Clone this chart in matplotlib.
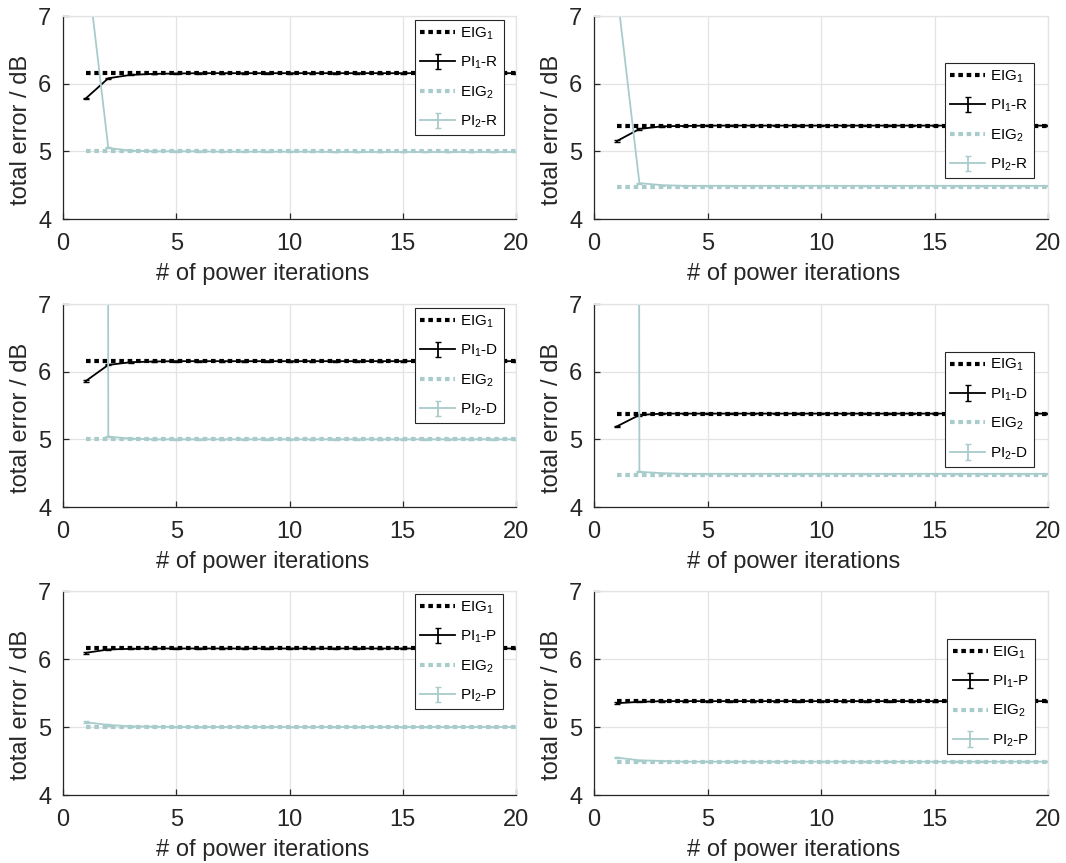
import matplotlib
matplotlib.use("Agg")
import matplotlib.pyplot as plt
import numpy as np

plt.rcParams["font.family"] = ["Liberation Sans", "DejaVu Sans"]
plt.rcParams["mathtext.fontset"] = "custom"
plt.rcParams["mathtext.rm"] = "Liberation Sans"
plt.rcParams["mathtext.default"] = "regular"

# x axis: number of power iterations
iters = list(range(1, 21))

# left column (first scenario)
eig1_a = [6.16] * 20
eig2_a = [5.00] * 20
pi1_r_a = [5.78, 6.08, 6.13, 6.145, 6.15, 6.155, 6.155, 6.155, 6.155, 6.155,
           6.155, 6.155, 6.155, 6.155, 6.155, 6.155, 6.155, 6.155, 6.155, 6.155]
pi2_r_a = [7.90, 5.05, 5.01, 5.00, 5.00, 5.00, 4.995, 4.995, 4.995, 4.995,
           4.995, 4.99, 4.99, 4.99, 4.99, 4.99, 4.99, 4.99, 4.99, 4.99]
pi1_d_a = [5.86, 6.10, 6.14, 6.15, 6.155, 6.155, 6.155, 6.155, 6.155, 6.155,
           6.155, 6.155, 6.155, 6.155, 6.155, 6.155, 6.155, 6.155, 6.155, 6.155]
pi2_d_a = [250.0, 5.04, 5.01, 5.00, 5.00, 5.00, 5.00, 5.00, 5.00, 5.00,
           5.00, 5.00, 5.00, 5.00, 5.00, 5.00, 5.00, 5.00, 5.00, 5.00]
pi1_p_a = [6.09, 6.14, 6.15, 6.155, 6.155, 6.155, 6.155, 6.155, 6.155, 6.155,
           6.155, 6.155, 6.155, 6.155, 6.155, 6.155, 6.155, 6.155, 6.155, 6.155]
pi2_p_a = [5.07, 5.03, 5.01, 5.005, 5.00, 5.00, 5.00, 5.00, 5.00, 5.00,
           5.00, 5.00, 5.00, 5.00, 5.00, 5.00, 5.00, 5.00, 5.00, 5.00]

# right column (second scenario)
eig1_b = [5.38] * 20
eig2_b = [4.48] * 20
pi1_r_b = [5.15, 5.33, 5.37, 5.375, 5.38, 5.38, 5.38, 5.38, 5.38, 5.38,
           5.38, 5.38, 5.38, 5.38, 5.38, 5.38, 5.38, 5.38, 5.38, 5.38]
pi2_r_b = [7.40, 4.53, 4.50, 4.49, 4.49, 4.49, 4.49, 4.49, 4.49, 4.49,
           4.49, 4.49, 4.49, 4.49, 4.49, 4.49, 4.49, 4.49, 4.49, 4.49]
pi1_d_b = [5.19, 5.36, 5.38, 5.38, 5.38, 5.38, 5.38, 5.38, 5.38, 5.38,
           5.38, 5.38, 5.38, 5.38, 5.38, 5.38, 5.38, 5.38, 5.38, 5.38]
pi2_d_b = [250.0, 4.52, 4.50, 4.49, 4.49, 4.49, 4.49, 4.49, 4.49, 4.49,
           4.49, 4.49, 4.49, 4.49, 4.49, 4.49, 4.49, 4.49, 4.49, 4.49]
pi1_p_b = [5.35, 5.37, 5.38, 5.38, 5.38, 5.38, 5.38, 5.38, 5.38, 5.38,
           5.38, 5.38, 5.38, 5.38, 5.38, 5.38, 5.38, 5.38, 5.38, 5.38]
pi2_p_b = [4.55, 4.51, 4.50, 4.49, 4.49, 4.49, 4.49, 4.49, 4.49, 4.49,
           4.49, 4.49, 4.49, 4.49, 4.49, 4.49, 4.49, 4.49, 4.49, 4.49]

# spread of the power iteration runs
pi_err = [0.012, 0.008, 0.006, 0.005, 0.005, 0.005, 0.005, 0.005, 0.005, 0.005,
          0.005, 0.005, 0.005, 0.005, 0.005, 0.005, 0.005, 0.005, 0.005, 0.005]

BLACK = "black"
TEAL = "#a8cccb"
DOTS = (0, (1.1, 0.9))

panels = [
    # (row, col, eig1, pi1, eig2, pi2, suffix, legend anchor)
    (0, 0, eig1_a, pi1_r_a, eig2_a, pi2_r_a, "R", (0.777, 0.98)),
    (0, 1, eig1_b, pi1_r_b, eig2_b, pi2_r_b, "R", (0.773, 0.768)),
    (1, 0, eig1_a, pi1_d_a, eig2_a, pi2_d_a, "D", (0.777, 0.98)),
    (1, 1, eig1_b, pi1_d_b, eig2_b, pi2_d_b, "D", (0.773, 0.765)),
    (2, 0, eig1_a, pi1_p_a, eig2_a, pi2_p_a, "P", (0.777, 0.985)),
    (2, 1, eig1_b, pi1_p_b, eig2_b, pi2_p_b, "P", (0.778, 0.765)),
]

fig = plt.figure(figsize=(10.66, 8.63), dpi=100)
W, H = 1066, 863
col_x = [(63, 516), (594, 1048)]
row_y = [(16, 219), (304, 507), (591, 795)]

for row, col, eig1, pi1, eig2, pi2, suf, anchor in panels:
    x0, x1 = col_x[col]
    y0, y1 = row_y[row]
    ax = fig.add_axes([x0 / W, 1 - y1 / H, (x1 - x0) / W, (y1 - y0) / H])

    h1, = ax.plot(iters, eig1, color=BLACK, lw=3, linestyle=DOTS,
                  label="EIG$_1$")
    h2 = ax.errorbar(iters, pi1, yerr=pi_err, color=BLACK, lw=1.3,
                     capsize=2.5, elinewidth=1.3, label="PI$_1$-" + suf)
    h3, = ax.plot(iters, eig2, color=TEAL, lw=3, linestyle=DOTS,
                  label="EIG$_2$")
    h4 = ax.errorbar(iters, pi2, yerr=pi_err, color=TEAL, lw=1.3,
                     capsize=2.5, elinewidth=1.3, label="PI$_2$-" + suf)

    ax.set_xlim(0, 20)
    ax.set_ylim(4, 7)
    ax.set_xticks([0, 5, 10, 15, 20])
    ax.set_yticks([4, 5, 6, 7])
    ax.grid(True, color="#e3e3e3", lw=0.9)
    ax.set_axisbelow(True)
    for side in ["left", "bottom"]:
        ax.spines[side].set_color("#262626")
        ax.spines[side].set_linewidth(0.9)
    for side in ["top", "right"]:
        ax.spines[side].set_color("#e3e3e3")
        ax.spines[side].set_linewidth(0.9)
    ax.tick_params(direction="in", length=4, width=0.9, colors="#262626",
                   labelsize=17, top=False, right=False)
    ax.tick_params(axis="x", pad=10)
    ax.tick_params(axis="y", pad=8.5)
    ax.set_xlabel("# of power iterations", fontsize=17, color="#262626")
    ax.set_ylabel("total error / dB", fontsize=17, color="#262626")
    ax.xaxis.set_label_coords(0.44, -0.215)
    ax.yaxis.set_label_coords(-0.069, 0.44)

    leg = ax.legend([h1, h2, h3, h4],
                    [h.get_label() for h in (h1, h2, h3, h4)],
                    loc="upper left", bbox_to_anchor=anchor, fontsize=11,
                    frameon=True, fancybox=False, edgecolor="#262626",
                    framealpha=1, handlelength=2.3, handletextpad=0.3,
                    labelspacing=0.85, borderpad=0.35, borderaxespad=0)
    leg.get_frame().set_linewidth(0.8)

fig.savefig("out.png", dpi=100)
